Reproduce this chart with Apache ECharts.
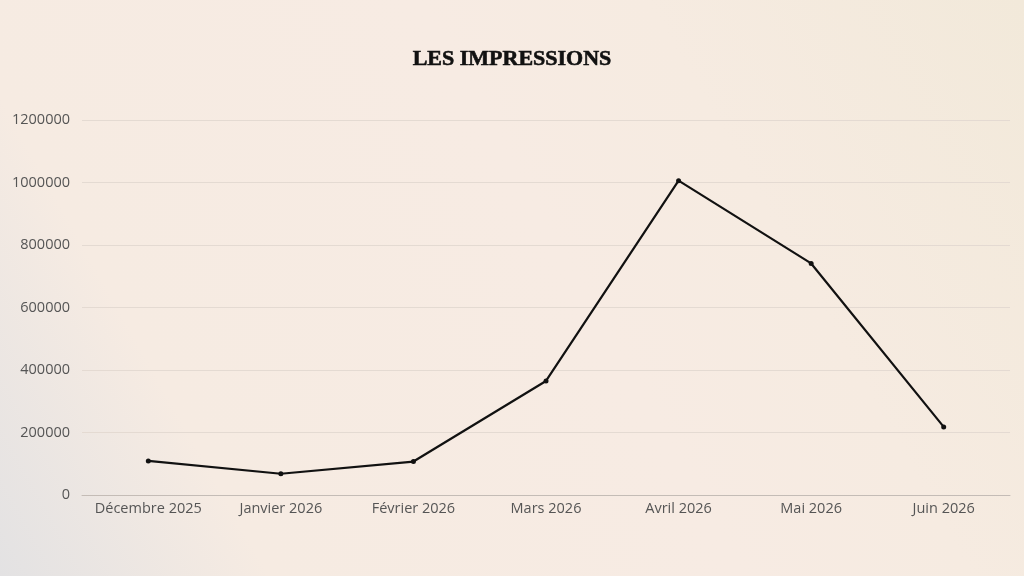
<!DOCTYPE html>
<html>
<head>
<meta charset="utf-8">
<script src="https://cdn.jsdelivr.net/npm/echarts@6/dist/echarts.min.js"></script>
<style>
  html, body { margin: 0; padding: 0; }
  /* fond dégradé : gris en bas à gauche, rose au centre, beige en haut à droite */
  #chart {
    width: 1024px; height: 576px;
    background: linear-gradient(60.6deg, #e3e2e3 0%, #f6ebe2 20%, #f7ebe3 55%, #f6ebe1 72%, #f2e9da 100%);
  }
</style>
</head>
<body>
<div id="chart"></div>
<script>
  // mois affichés sur l'axe x
  var months = ['Décembre 2025', 'Janvier 2026', 'Février 2026', 'Mars 2026', 'Avril 2026', 'Mai 2026', 'Juin 2026'];
  // nombre d'impressions par mois
  var impressions = [109000, 68000, 107000, 365000, 1006000, 741000, 218000];
  var yMin = 0, yMax = 1200000, yStep = 200000;

  var chart = echarts.init(document.getElementById('chart'));
  var option = {
    backgroundColor: 'transparent',
    title: {
      text: 'LES IMPRESSIONS',
      left: 'center',
      top: 43,
      textStyle: {
        fontFamily: 'Liberation Serif',
        fontWeight: 900,
        fontSize: 22,
        color: '#111',
        textBorderColor: '#111',
        textBorderWidth: 0.6
      }
    },
    grid: {
      left: 82,
      right: 14,
      top: 120,
      bottom: 81
    },
    xAxis: {
      type: 'category',
      data: months,
      boundaryGap: true,
      axisTick: { show: false },
      axisLine: { lineStyle: { color: '#c4bcb6', width: 1 } },
      axisLabel: {
        interval: 0,
        margin: 6,
        fontFamily: 'Open Sans',
        fontSize: 14.5,
        color: '#555'
      }
    },
    yAxis: {
      type: 'value',
      min: yMin,
      max: yMax,
      interval: yStep,
      axisLine: { show: false },
      axisTick: { show: false },
      splitLine: { lineStyle: { color: '#e4dad2', width: 1 } },
      axisLabel: {
        margin: 12,
        fontFamily: 'Open Sans',
        fontSize: 14.5,
        color: '#555',
        formatter: function (v) { return String(v); }
      }
    },
    series: [{
      name: 'Impressions',
      type: 'line',
      data: impressions,
      symbol: 'circle',
      symbolSize: 5,
      itemStyle: { color: '#111' },
      lineStyle: { color: '#111', width: 2.2 },
      animation: false
    }]
  };
  chart.setOption(option);
</script>
</body>
</html>
